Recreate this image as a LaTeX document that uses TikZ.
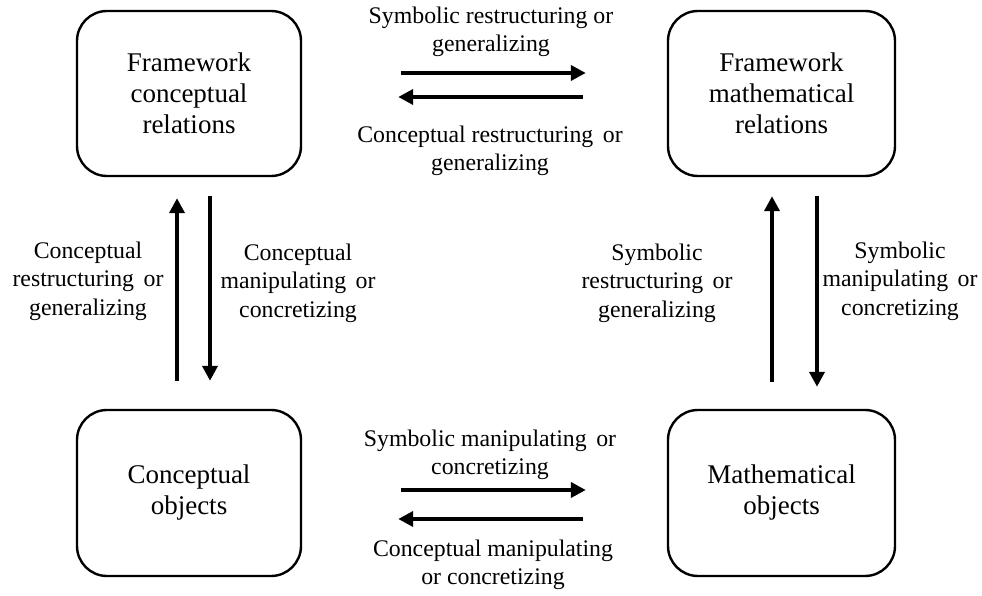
\documentclass[tikz,border=0pt]{standalone}
\usepackage{fontspec}
\setmainfont{Liberation Serif}
\usetikzlibrary{arrows.meta}
\newcommand{\wsp}{\hspace{0.4em}}
\begin{document}
\begin{tikzpicture}[x=1pt,y=1pt,
  box/.style={draw, line width=2.4pt, rounded corners=30pt, align=center,
    inner sep=0pt, font=\fontsize{27}{31}\selectfont},
  lbl/.style={align=center, inner sep=0pt, font=\fontsize{23.8}{28.5}\selectfont},
  arr/.style={line width=4.6pt, -{Triangle[length=15pt,width=15pt]}}]
\useasboundingbox (0,0) rectangle (982,596);

% the four boxes
\node[box, minimum width=224pt, minimum height=165pt] (fcr) at (189,502.5)
  {Framework\\conceptual\\relations};
\node[box, minimum width=227pt, minimum height=165pt] (fmr) at (781.5,502.5)
  {Framework\\mathematical\\relations};
\node[box, minimum width=224pt, minimum height=166pt] (co) at (189,103)
  {Conceptual\\objects};
\node[box, minimum width=227pt, minimum height=166pt] (mo) at (781.5,103)
  {Mathematical\\objects};

% horizontal arrows, top row
\draw[arr, shorten <=99pt, shorten >=81pt]
  ([yshift=20.5pt]fcr.east) -- ([yshift=20.5pt]fmr.west);
\draw[arr, shorten <=84pt, shorten >=96pt]
  ([yshift=-3.5pt]fmr.west) -- ([yshift=-3.5pt]fcr.east);

% horizontal arrows, bottom row
\draw[arr, shorten <=99pt, shorten >=81pt]
  ([yshift=3pt]co.east) -- ([yshift=3pt]mo.west);
\draw[arr, shorten <=84pt, shorten >=96pt]
  ([yshift=-26pt]mo.west) -- ([yshift=-26pt]co.east);

% vertical arrows, left column
\draw[arr, shorten <=28pt, shorten >=21pt]
  ([xshift=-12pt]co.north) -- ([xshift=-12pt]fcr.south);
\draw[arr, shorten <=19pt, shorten >=28pt]
  ([xshift=21pt]fcr.south) -- ([xshift=21pt]co.north);

% vertical arrows, right column
\draw[arr, shorten <=27pt, shorten >=19pt]
  ([xshift=-9.5pt]mo.north) -- ([xshift=-9.5pt]fmr.south);
\draw[arr, shorten <=19pt, shorten >=22pt]
  ([xshift=35.5pt]fmr.south) -- ([xshift=35.5pt]mo.north);

% arrow labels
\node[lbl] (l1) at (491,564) {Symbolic restructuring or\\generalizing};
\node[lbl] (l2) at (490,445) {Conceptual restructuring\wsp or\\generalizing};
\node[lbl] (l3) at (88,315) {Conceptual\\restructuring\wsp or\\generalizing};
\node[lbl] (l4) at (298,313) {Conceptual\\manipulating\wsp or\\concretizing};
\node[lbl] (l5) at (657,313) {Symbolic\\restructuring\wsp or\\generalizing};
\node[lbl] (l6) at (900,315) {Symbolic\\manipulating\wsp or\\concretizing};
\node[lbl] (l7) at (490,141) {Symbolic manipulating\wsp or\\concretizing};
\node[lbl] (l8) at (493,31) {Conceptual manipulating\\or concretizing};
\end{tikzpicture}
\end{document}
